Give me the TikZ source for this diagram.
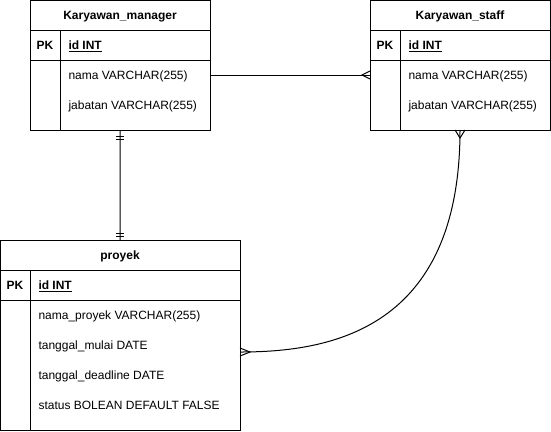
\documentclass[tikz,border=0pt]{standalone}
\usepackage{fontspec}
\setmainfont{Liberation Sans}
\begin{document}
\begin{tikzpicture}[x=1bp,y=-1bp,line width=1bp,
  tbl/.style={draw,anchor=north west,inner sep=0pt,outer sep=0pt},
  ttl/.style={font=\fontsize{12bp}{14bp}\selectfont\bfseries,inner sep=0pt,anchor=base},
  fld/.style={font=\fontsize{12bp}{14bp}\selectfont,anchor=base west,inner sep=0pt},
  pk/.style={font=\fontsize{12bp}{14bp}\selectfont\bfseries,inner sep=0pt,anchor=base},
  conn/.style={line width=1bp}]
\useasboundingbox (0,0) rectangle (551,431);
% Karyawan_manager
\node[tbl,minimum width=180bp,minimum height=130bp] (mgr) at (30,0) {};
\draw (30,30) -- (210,30) (30,60) -- (210,60) (60,30) -- (60,130);
\node[ttl] (mgrT) at (120,19.5) {Karyawan\_manager};
\node[pk] (mgrPK) at (45,49.5) {PK};
\node[fld] (mgrId) at (68,49.5) {\bfseries\underline{id INT}};
\node[fld] (mgrF1) at (68,79.5) {nama VARCHAR(255)};
\node[fld] (mgrF2) at (68,109.5) {jabatan VARCHAR(255)};
% Karyawan_staff
\node[tbl,minimum width=180bp,minimum height=130bp] (stf) at (370,0) {};
\draw (370,30) -- (550,30) (370,60) -- (550,60) (400,30) -- (400,130);
\node[ttl] (stfT) at (460,19.5) {Karyawan\_staff};
\node[pk] (stfPK) at (385,49.5) {PK};
\node[fld] (stfId) at (408,49.5) {\bfseries\underline{id INT}};
\node[fld] (stfF1) at (408,79.5) {nama VARCHAR(255)};
\node[fld] (stfF2) at (408,109.5) {jabatan VARCHAR(255)};
% proyek
\node[tbl,minimum width=240bp,minimum height=190bp] (pry) at (0,240) {};
\draw (0,270) -- (240,270) (0,300) -- (240,300) (30,270) -- (30,430);
\node[ttl] (pryT) at (120,259.5) {proyek};
\node[pk] (pryPK) at (15,289.5) {PK};
\node[fld] (pryId) at (38,289.5) {\bfseries\underline{id INT}};
\node[fld] (pryF1) at (38,319.5) {nama\_proyek VARCHAR(255)};
\node[fld] (pryF2) at (38,349.5) {tanggal\_mulai DATE};
\node[fld] (pryF3) at (38,379.5) {tanggal\_deadline DATE};
\node[fld] (pryF4) at (38,409.5) {status BOLEAN DEFAULT FALSE};
% manager -> staff (many)
\draw[conn] ([yshift=-10bp]mgr.east) -- ([yshift=-10bp]stf.west);
\draw[conn] ([yshift=-6bp]stf.west) -- ([xshift=-8bp,yshift=-10bp]stf.west) -- ([yshift=-14bp]stf.west);
% manager -> proyek (one and only one)
\draw[conn] (mgr.south) -- (pry.north);
\draw[conn] ([xshift=-4bp,yshift=-6bp]mgr.south) -- ([xshift=4bp,yshift=-6bp]mgr.south);
\draw[conn] ([xshift=-4bp,yshift=-9bp]mgr.south) -- ([xshift=4bp,yshift=-9bp]mgr.south);
\draw[conn] ([xshift=-4bp,yshift=7bp]pry.north) -- ([xshift=4bp,yshift=7bp]pry.north);
\draw[conn] ([xshift=-4bp,yshift=4bp]pry.north) -- ([xshift=4bp,yshift=4bp]pry.north);
% staff -> proyek (many to many, curved)
\draw[conn] (stf.south) .. controls +(0,200) and +(90,0) .. ([yshift=-17bp]pry.east);
\draw[conn] ([xshift=-5bp]stf.south) -- ([yshift=-8bp]stf.south) -- ([xshift=5bp]stf.south);
\draw[conn] ([yshift=-13bp]pry.east) -- ([xshift=10bp,yshift=-17bp]pry.east) -- ([yshift=-21bp]pry.east);
\end{tikzpicture}
\end{document}
